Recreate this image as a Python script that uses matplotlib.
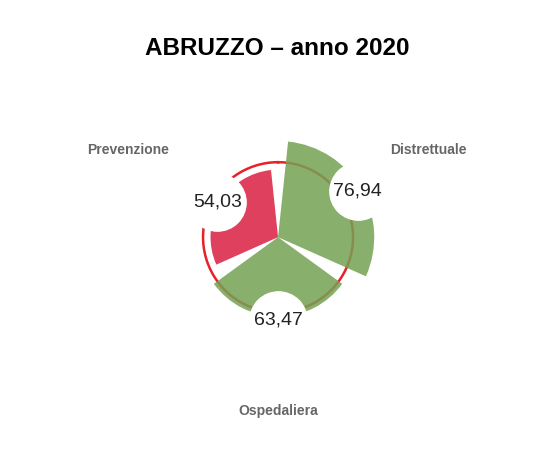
import numpy as np
import matplotlib.pyplot as plt

plt.rcParams['font.family'] = ['Liberation Sans', 'DejaVu Sans']

# dati
aree = ['Distrettuale', 'Ospedaliera', 'Prevenzione']
punteggi = [76.94, 63.47, 54.03]
etichette = ['76,94', '63,47', '54,03']
soglia = 60  # soglia di sufficienza

verde = '#75a154'
rosso = '#da1e42'
colori = [verde if v >= soglia else rosso for v in punteggi]

fig = plt.figure(figsize=(5.42, 4.57), dpi=100)
ax = fig.add_axes([0.3285, 0.262, 0.369, 0.438], projection='polar')
ax.set_theta_zero_location('N')
ax.set_theta_direction(-1)

theta = np.deg2rad(np.array([60, 180, 300]))
larg = np.deg2rad(120) * 0.9
spost = [-3.5, 3, 2]  # piccolo spostamento radiale delle etichette

# cerchio soglia sotto le barre
t = np.linspace(0, 2 * np.pi, 400)
ax.plot(t, np.full_like(t, soglia), color='#e8202a', lw=1.8, zorder=1)

ax.bar(theta, punteggi, width=larg, color=colori, alpha=0.85, zorder=2, linewidth=0)

# cerchi bianchi con i valori
r_lab = np.array(punteggi) + np.array(spost)
ax.scatter(theta, r_lab, s=1700, color='white', zorder=3, clip_on=False)
for th, r, lab in zip(theta, r_lab, etichette):
    ax.text(th, r, lab, ha='center', va='center', fontsize=14, color='#222222', zorder=4)

# nomi delle aree
for th, nome in zip(theta, aree):
    ax.text(th, 139, nome, ha='center', va='center', fontsize=10, fontweight='bold',
            color='#666666', clip_on=False)

ax.set_ylim(0, 80)
ax.axis('off')

fig.text(0.512, 0.893, 'ABRUZZO \u2013 anno 2020', ha='center', va='center',
         fontsize=17.5, fontweight='bold')

fig.savefig('out.png', dpi=100)
